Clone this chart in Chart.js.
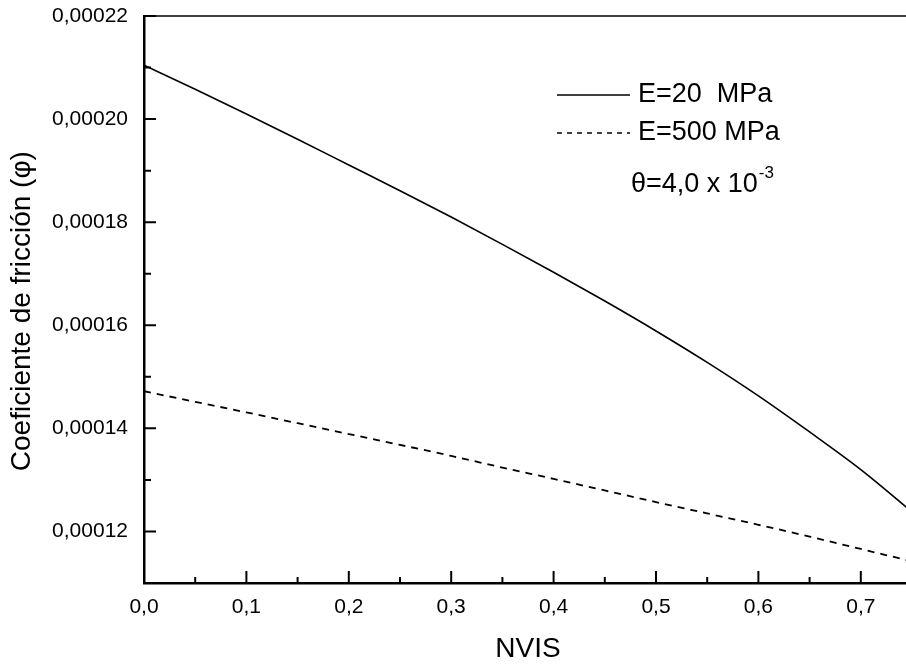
<!DOCTYPE html>
<html>
<head>
<meta charset="utf-8">
<script src="https://cdn.jsdelivr.net/npm/chart.js@4/dist/chart.umd.min.js"></script>
<style>
  html, body { margin: 0; padding: 0; background: #fff; overflow: hidden; }
  #wrap { width: 906px; height: 668px; overflow: hidden; }
  #box { width: 912px; height: 668px; }
</style>
</head>
<body>
<div id="wrap"><div id="box"><canvas id="chart"></canvas></div></div>
<script>
// ================================
// DATA
// ================================
const nvis = [0, 0.05, 0.1, 0.15, 0.2, 0.25, 0.3, 0.35, 0.4, 0.45, 0.5, 0.55, 0.6, 0.65, 0.7, 0.75];

// E = 20 MPa (solid)
const phiE20 = [0.00021045, 0.0002058, 0.0002010, 0.0001961, 0.0001911, 0.0001861, 0.0001810, 0.0001757,
                0.0001703, 0.0001647, 0.0001589, 0.0001528, 0.0001463, 0.0001393, 0.0001320, 0.0001238];

// E = 500 MPa (dashed)
const phiE500 = [0.0001472, 0.00014515, 0.0001431, 0.0001410, 0.0001389, 0.0001368, 0.00013465, 0.0001324,
                 0.0001302, 0.00012795, 0.0001257, 0.0001235, 0.0001213, 0.0001190, 0.0001166, 0.0001142];

const xTicks = [0, 0.1, 0.2, 0.3, 0.4, 0.5, 0.6, 0.7];
const xMinor = [0.05, 0.15, 0.25, 0.35, 0.45, 0.55, 0.65, 0.75];
const yTicks = [0.00012, 0.00014, 0.00016, 0.00018, 0.00020, 0.00022];
const yMinor = [0.00011, 0.00013, 0.00015, 0.00017, 0.00019, 0.00021];

const seriesLabels = ["E=20  MPa", "E=500 MPa"];
const noteText = "\u03b8=4,0 x 10";
const noteExp = "-3";

const FONT = "'Liberation Sans', Arial, sans-serif";

// ================================
// PLUGINS
// ================================
// inward ticks (major + minor) and the top frame line
const frameTicks = {
    id: "frameTicks",
    afterDraw(chart) {
        const { ctx, chartArea: a, scales: { x, y } } = chart;
        ctx.save();
        ctx.strokeStyle = "#000";
        ctx.lineWidth = 2;
        ctx.beginPath();
        xTicks.forEach(v => { const p = x.getPixelForValue(v); ctx.moveTo(p, a.bottom); ctx.lineTo(p, a.bottom - 12); });
        xMinor.forEach(v => { const p = x.getPixelForValue(v); ctx.moveTo(p, a.bottom); ctx.lineTo(p, a.bottom - 6); });
        yTicks.forEach(v => { const p = y.getPixelForValue(v); ctx.moveTo(a.left, p); ctx.lineTo(a.left + 12, p); });
        yMinor.forEach(v => { const p = y.getPixelForValue(v); ctx.moveTo(a.left, p); ctx.lineTo(a.left + 7, p); });
        ctx.stroke();

        ctx.lineWidth = 1.5;
        ctx.beginPath();
        ctx.moveTo(a.left, a.top);
        ctx.lineTo(a.right, a.top);
        ctx.stroke();
        ctx.restore();
    }
};

// legend box in the upper right, like the original
const legendBox = {
    id: "legendBox",
    afterDraw(chart) {
        const ctx = chart.ctx;
        const ds = chart.data.datasets;
        ctx.save();
        ctx.fillStyle = "#000";
        ctx.strokeStyle = "#000";
        ctx.textBaseline = "middle";
        ctx.textAlign = "left";
        ctx.font = "27px " + FONT;

        const rows = [95, 133];
        ds.forEach((d, i) => {
            ctx.lineWidth = 1.5;
            ctx.setLineDash(i === 0 ? [] : [5, 5]);
            ctx.beginPath();
            ctx.moveTo(557, rows[i]);
            ctx.lineTo(630, rows[i]);
            ctx.stroke();
            ctx.setLineDash([]);
            ctx.fillText(d.label, 638, rows[i]);
        });

        ctx.fillText(noteText, 631, 185);
        const w = ctx.measureText(noteText).width;
        ctx.font = "17px " + FONT;
        ctx.fillText(noteExp, 631 + w + 1, 173);
        ctx.restore();
    }
};

// ================================
// PLOT
// ================================
function plotChart(canvasId) {
    const ctx = document.getElementById(canvasId).getContext("2d");

    new Chart(ctx, {
        type: "line",
        data: {
            datasets: [
                {
                    label: seriesLabels[0],
                    data: nvis.map((v, i) => ({ x: v, y: phiE20[i] })),
                    borderColor: "#000",
                    borderWidth: 1.6,
                    pointRadius: 0,
                    cubicInterpolationMode: "monotone"
                },
                {
                    label: seriesLabels[1],
                    data: nvis.map((v, i) => ({ x: v, y: phiE500[i] })),
                    borderColor: "#000",
                    borderWidth: 1.8,
                    borderDash: [7, 6],
                    pointRadius: 0,
                    cubicInterpolationMode: "monotone"
                }
            ]
        },
        options: {
            responsive: true,
            maintainAspectRatio: false,
            animation: false,
            layout: { padding: { top: 16, left: 0, right: 0, bottom: 0 } },
            plugins: {
                legend: { display: false },
                tooltip: { enabled: false }
            },
            scales: {
                x: {
                    type: "linear",
                    min: 0,
                    max: 0.75,
                    afterBuildTicks: s => { s.ticks = xTicks.map(v => ({ value: v })); },
                    afterFit: s => {
                        s.height = 85;
                        s.paddingLeft = 0;
                        s.paddingRight = 0;
                    },
                    grid: { display: false, drawTicks: false },
                    border: { display: true, color: "#000", width: 2.5 },
                    ticks: {
                        color: "#000",
                        padding: 12,
                        maxRotation: 0,
                        font: { family: FONT, size: 21 },
                        callback: v => v.toFixed(1).replace(".", ",")
                    },
                    title: {
                        display: true,
                        text: "NVIS",
                        color: "#000",
                        font: { family: FONT, size: 28 },
                        padding: { top: 0, bottom: 2 }
                    }
                },
                y: {
                    min: 0.00011,
                    max: 0.00022,
                    afterBuildTicks: s => { s.ticks = yTicks.map(v => ({ value: v })); },
                    // fixed width, and no extra room for the label overhang at the top
                    afterFit: s => {
                        s.width = 144;
                        s.paddingTop = 0;
                        s.paddingBottom = 0;
                    },
                    grid: { display: false, drawTicks: false },
                    border: { display: true, color: "#000", width: 2.5 },
                    ticks: {
                        color: "#000",
                        padding: 16,
                        font: { family: FONT, size: 21 },
                        callback: v => v.toFixed(5).replace(".", ",")
                    },
                    title: {
                        display: true,
                        // trailing spaces push the visible text a little lower, as in the original
                        text: "Coeficiente de fricci\u00f3n (\u03c6)   ",
                        color: "#000",
                        font: { family: FONT, size: 28 },
                        padding: { top: 5, bottom: 0 }
                    }
                }
            }
        },
        plugins: [frameTicks, legendBox]
    });
}

// ================================
// RUN
// ================================
plotChart("chart");
</script>
</body>
</html>
